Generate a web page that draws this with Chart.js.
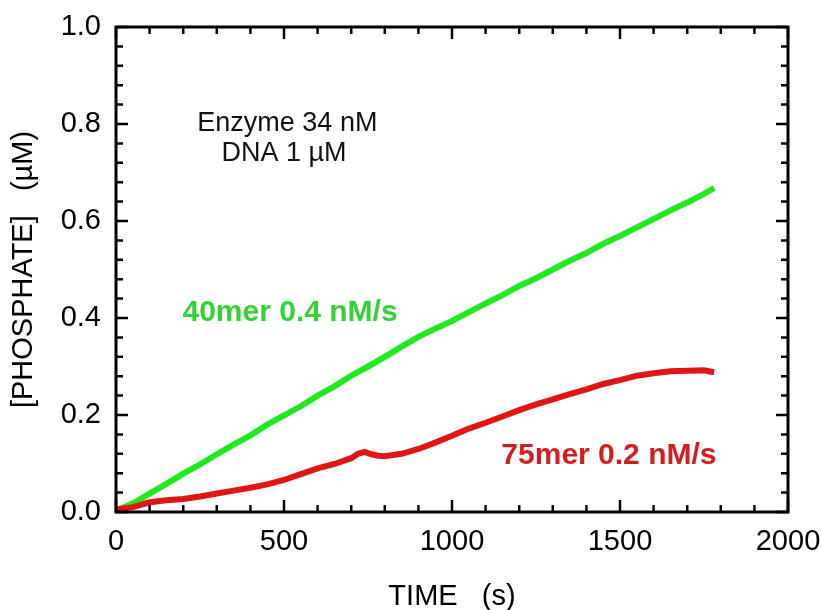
<!DOCTYPE html>
<html>
<head>
<meta charset="utf-8">
<script src="https://cdn.jsdelivr.net/npm/chart.js@4/dist/chart.umd.min.js"></script>
<style>
  html, body { margin: 0; padding: 0; background: #fff; }
  #wrap { width: 821px; height: 610px; }
</style>
</head>
<body>
<div id="wrap"><canvas id="chart" width="821" height="610"></canvas></div>
<script>
// time (s)
const timeGreen = [0, 50, 100, 150, 200, 250, 300, 350, 400, 450, 500, 550, 600, 650, 700, 750, 800, 850, 900,
    950, 1000, 1050, 1100, 1150, 1200, 1250, 1300, 1350, 1400, 1450, 1500, 1550, 1600, 1650, 1700, 1750, 1780];
// 40mer, [phosphate] uM
const phosGreen = [0.002, 0.018, 0.038, 0.058, 0.079, 0.098, 0.119, 0.139, 0.158, 0.180, 0.199, 0.218, 0.240,
    0.259, 0.281, 0.300, 0.320, 0.341, 0.361, 0.378, 0.394, 0.412, 0.430, 0.447, 0.466, 0.482, 0.500, 0.518,
    0.534, 0.553, 0.569, 0.587, 0.604, 0.622, 0.638, 0.656, 0.668];

const timeRed = [0, 50, 100, 150, 200, 250, 300, 350, 400, 450, 500, 550, 600, 650, 700, 720, 740, 760, 780, 800,
    850, 900, 950, 1000, 1050, 1100, 1150, 1200, 1250, 1300, 1350, 1400, 1450, 1500, 1550, 1600, 1650, 1700,
    1750, 1780];
// 75mer
const phosRed = [0.005, 0.010, 0.020, 0.024, 0.027, 0.032, 0.038, 0.044, 0.050, 0.057, 0.066, 0.078, 0.090,
    0.099, 0.111, 0.120, 0.124, 0.119, 0.116, 0.115, 0.120, 0.130, 0.143, 0.157, 0.172, 0.184, 0.197, 0.210,
    0.222, 0.232, 0.243, 0.253, 0.264, 0.272, 0.281, 0.286, 0.290, 0.291, 0.292, 0.288];

const xTickLabels = ["0", "500", "1000", "1500", "2000"];
const yTickLabels = ["0.0", "0.2", "0.4", "0.6", "0.8", "1.0"];

const GREEN = "rgb(34, 232, 34)";
const RED = "rgb(224, 22, 22)";
const FONT = "'Liberation Sans', Arial, sans-serif";

function toPoints(xs, ys) {
    return xs.map((x, i) => ({ x: x, y: ys[i] }));
}

// frame + inward ticks on all four sides, plus text labels
const framePlugin = {
    id: "frame",
    afterDraw(chart) {
        const ctx = chart.ctx;
        const a = chart.chartArea;
        const xs = chart.scales.x;
        const ys = chart.scales.y;
        ctx.save();
        ctx.strokeStyle = "#000";
        ctx.lineWidth = 3;
        ctx.strokeRect(a.left, a.top, a.right - a.left, a.bottom - a.top);

        ctx.lineWidth = 2.5;
        ctx.beginPath();
        for (let v = 0; v <= 2000; v += 100) {
            const px = xs.getPixelForValue(v);
            const len = v % 500 === 0 ? 12 : 7;
            ctx.moveTo(px, a.bottom); ctx.lineTo(px, a.bottom - len);
            ctx.moveTo(px, a.top); ctx.lineTo(px, a.top + len);
        }
        for (let k = 0; k <= 25; k++) {
            const v = k * 0.04;
            const py = ys.getPixelForValue(v);
            const len = k % 5 === 0 ? 12 : 7;
            ctx.moveTo(a.left, py); ctx.lineTo(a.left + len, py);
            ctx.moveTo(a.right, py); ctx.lineTo(a.right - len, py);
        }
        ctx.stroke();

        ctx.textAlign = "center";
        ctx.textBaseline = "middle";
        ctx.fillStyle = "#111";
        ctx.font = "27px " + FONT;
        ctx.fillText("Enzyme 34 nM", xs.getPixelForValue(510), ys.getPixelForValue(0.80));
        ctx.fillText("DNA 1 \u00b5M", xs.getPixelForValue(500), ys.getPixelForValue(0.74));

        ctx.font = "bold 30px " + FONT;
        ctx.fillStyle = "rgb(50, 210, 50)";
        ctx.fillText("40mer 0.4 nM/s", xs.getPixelForValue(518), ys.getPixelForValue(0.41));
        ctx.fillStyle = "rgb(210, 30, 30)";
        ctx.fillText("75mer 0.2 nM/s", xs.getPixelForValue(1467), ys.getPixelForValue(0.117));
        ctx.restore();
    }
};

const ctx = document.getElementById("chart").getContext("2d");
new Chart(ctx, {
    type: "scatter",
    data: {
        datasets: [
            {
                label: "75mer",
                data: toPoints(timeRed, phosRed),
                showLine: true,
                borderColor: RED,
                borderWidth: 6,
                pointRadius: 0,
                order: 0
            },
            {
                label: "40mer",
                data: toPoints(timeGreen, phosGreen),
                showLine: true,
                borderColor: GREEN,
                borderWidth: 6,
                pointRadius: 0,
                order: 1
            }
        ]
    },
    options: {
        responsive: false,
        animation: false,
        layout: { padding: { left: 0, right: 33, top: 27, bottom: 0 } },
        plugins: {
            legend: { display: false },
            tooltip: { enabled: false }
        },
        scales: {
            x: {
                type: "linear",
                min: 0,
                max: 2000,
                afterFit(scale) {
                    scale.height = 98;
                    scale.paddingLeft = 0;
                    scale.paddingRight = 0;
                },
                afterBuildTicks(scale) {
                    scale.ticks = xTickLabels.map(t => ({ value: Number(t) }));
                },
                grid: { display: false, drawTicks: false },
                border: { display: false },
                ticks: {
                    padding: 13,
                    color: "#000",
                    font: { family: FONT, size: 29 },
                    maxRotation: 0,
                    callback: (v, i) => xTickLabels[i]
                },
                title: {
                    display: true,
                    text: "TIME   (s)",
                    color: "#000",
                    font: { family: FONT, size: 29, lineHeight: 0.9 },
                    padding: { top: 0, bottom: 0 }
                }
            },
            y: {
                type: "linear",
                min: 0,
                max: 1,
                afterFit(scale) {
                    scale.width = 116;
                    scale.paddingTop = 0;
                    scale.paddingBottom = 0;
                },
                afterBuildTicks(scale) {
                    scale.ticks = yTickLabels.map(t => ({ value: Number(t) }));
                },
                grid: { display: false, drawTicks: false },
                border: { display: false },
                ticks: {
                    padding: 15,
                    color: "#000",
                    font: { family: FONT, size: 29 },
                    callback: (v, i) => yTickLabels[i]
                },
                title: {
                    display: true,
                    text: "[PHOSPHATE]   (\u00b5M)",
                    color: "#000",
                    font: { family: FONT, size: 29, lineHeight: 0.9 },
                    padding: { top: 11, bottom: 0 }
                }
            }
        }
    },
    plugins: [framePlugin]
});
</script>
</body>
</html>
